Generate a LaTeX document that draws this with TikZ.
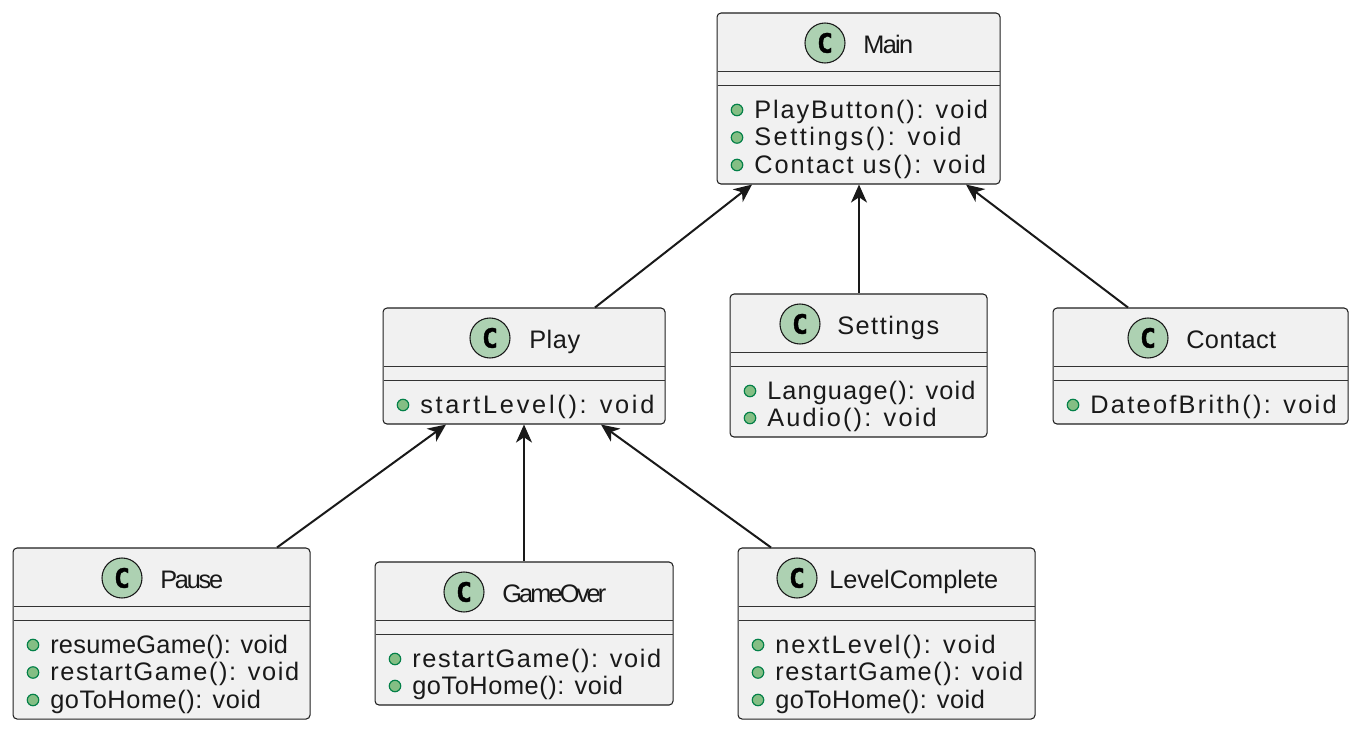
\documentclass[tikz,border=0pt]{standalone}
\usepackage{fontspec}
\usetikzlibrary{arrows.meta,calc}
\setmainfont{Liberation Sans}
\newfontfamily\spotfont{DejaVu Sans Mono}[BoldFeatures={FakeBold=1.2}]
\ExplSyntaxOn
\cs_new:Npn \chcount #1 {\str_count:n{#1}}
\ExplSyntaxOff
\newcommand\fsz{19}
\newcommand\fitto[2]{%
  \setbox0\hbox{#2}%
  \edef\chn{\chcount{#2}}%
  \pgfmathsetmacro\lsp{(#1*0.75-\the\wd0)/((\chn-1)*\fsz)*100}%
  {\addfontfeature{LetterSpace=\lsp}#2}}
\tikzset{
  x=0.75pt,y=-0.75pt,
  classbox/.style={draw=black!88,fill=boxgray,line width=0.8pt,rounded corners=3pt,inner sep=0pt,anchor=north west},
  sepline/.style={draw=black!80,line width=0.7pt},
  spot/.style={circle,draw=black!90,fill=spotgreen,line width=0.8pt,minimum size=30pt,inner sep=0pt},
  bullet/.style={circle,draw=bulletline,fill=bulletfill,line width=0.9pt,minimum size=8.6pt,inner sep=0pt},
  label/.style={anchor=base west,inner sep=0pt,text=black!90},
  assoc/.style={line width=1.5pt,draw=black!90,{Stealth[length=13.5pt,width=12pt,inset=4pt]}-},
}
\definecolor{boxgray}{HTML}{F1F1F1}
\definecolor{spotgreen}{HTML}{ADD1B2}
\definecolor{bulletfill}{HTML}{84BE84}
\definecolor{bulletline}{HTML}{038048}
% #1 name, #2 x, #3 y, #4 width, #5 height, #6 spot x, #7 title left, #8 title width, #9 title
\newcommand\classhead[9]{%
  \node[classbox,minimum width=#4*0.75pt,minimum height=#5*0.75pt] (#1) at (#2-0.5,#3-0.5) {};
  \draw[sepline] ($(#1.north west)+(1,58.5)$) -- ($(#1.north east)+(-1,58.5)$);
  \draw[sepline] ($(#1.north west)+(1,73)$) -- ($(#1.north east)+(-1,73)$);
  \node[spot] (#1spot) at (#6,#3+30) {};
  \node[inner sep=0pt] (#1c) at (#6,#3+30) {\fontsize{20}{20}\spotfont\bfseries C};
  \node[label] (#1title) at (#7,#3+40.5) {\fontsize{\fsz}{\fsz}\selectfont\fitto{#8}{#9}};
}
% #1 name, #2 bullet x, #3 baseline y, #4 text width, #5 text
\newcommand\member[5]{%
  \node[bullet] (#1b) at (#2,#3-8) {};
  \node[label] (#1t) at (#2+17,#3+0.5) {\fontsize{\fsz}{\fsz}\selectfont\fitto{#4}{#5}};
}
\begin{document}
\begin{tikzpicture}
\useasboundingbox (0,0) rectangle (1361,730);
\classhead{main}{717}{13}{283}{171}{825}{863}{50}{Main}
\member{ma}{737}{118}{235}{PlayButton(): void}
\member{mb}{737}{145.5}{209}{Settings(): void}
\member{mc}{737}{173}{235}{Contact us(): void}

\classhead{play}{383}{308}{282}{116}{490}{529}{51}{Play}
\member{pa}{403}{413}{236}{startLevel(): void}

\classhead{settings}{730}{294}{257}{143}{800}{837}{102}{Settings}
\member{sa}{750}{399}{209}{Language(): void}
\member{sb}{750}{426}{171}{Audio(): void}

\classhead{contact}{1053}{308}{295}{116}{1148}{1186}{90}{Contact}
\member{ca}{1073}{413}{248}{DateofBrith(): void}

\classhead{pause}{13}{548}{297}{171}{122}{160}{63}{Pause}
\member{xa}{33}{653}{238}{resumeGame(): void}
\member{xb}{33}{680.5}{250}{restartGame(): void}
\member{xc}{33}{708}{211}{goToHome(): void}

\classhead{over}{375}{562}{298}{143}{464}{502}{104}{GameOver}
\member{oa}{395}{667}{250}{restartGame(): void}
\member{ob}{395}{694}{211}{goToHome(): void}

\classhead{level}{738}{548}{297}{171}{797}{829}{169}{LevelComplete}
\member{la}{758}{653}{222}{nextLevel(): void}
\member{lb}{758}{680.5}{249}{restartGame(): void}
\member{lc}{758}{708}{210}{goToHome(): void}

\draw[assoc] ($(main.south west)+(35.5,0)$) -- ($(play.north west)+(212.5,0)$);
\draw[assoc] ($(main.south west)+(142.5,0)$) -- ($(settings.north west)+(129.5,0)$);
\draw[assoc] ($(main.south west)+(249.5,0)$) -- ($(contact.north west)+(75.5,0)$);
\draw[assoc] ($(play.south west)+(63.5,0)$) -- ($(pause.north west)+(264.5,0)$);
\draw[assoc] ($(play.south west)+(141.5,0)$) -- ($(over.north west)+(149.5,0)$);
\draw[assoc] ($(play.south west)+(218.5,0)$) -- ($(level.north west)+(33.5,0)$);
\end{tikzpicture}
\end{document}
